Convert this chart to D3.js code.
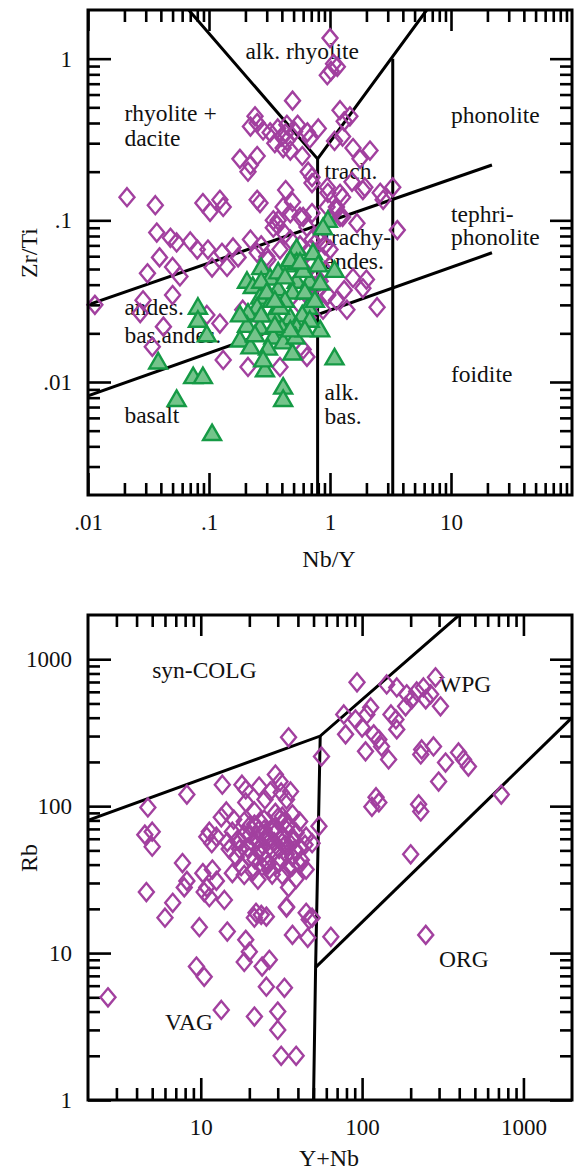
<!DOCTYPE html>
<html lang="en">
<head>
<meta charset="utf-8">
<title>Nb/Y - Zr/Ti and Y+Nb - Rb diagrams</title>
<style>
  body { margin: 0; background: #fff; }
  svg { display: block; }
  svg text { font-family: "Liberation Serif", "Times New Roman", serif; fill: #111; }
</style>
</head>
<body>
<div id="container"></div>
<script src="https://cdnjs.cloudflare.com/ajax/libs/d3/7.8.5/d3.min.js"></script>
<script>
// ---- top diagram: Nb/Y vs Zr/Ti ----
var diaNbY = [1.0,1.07,1.15,1.02,0.95,0.49,0.24,0.25,0.22,0.32,0.37,0.40,0.44,0.35,0.41,0.47,0.54,0.65,0.80,0.68,
  0.59,0.18,0.22,0.21,0.25,0.44,0.51,0.43,0.28,1.21,1.46,1.31,1.27,1.09,1.55,2.14,1.77,0.71,0.66,0.71,
  0.95,1.21,1.52,1.94,2.6,3.3,2.75,1.87,0.43,0.49,0.25,0.41,0.089,0.102,0.123,0.131,0.021,0.036,0.96,1.27,
  1.13,0.365,0.34,0.565,0.71,1.21,1.67,3.6,0.47,0.60,0.264,0.037,0.048,0.054,0.070,0.080,0.098,0.128,0.158,0.174,
  0.039,0.050,0.0575,0.106,0.141,0.031,0.0114,0.0285,0.050,0.25,0.30,0.22,0.373,0.34,0.645,0.945,1.13,1.27,0.47,0.565,
  0.68,0.80,0.86,0.71,0.62,0.91,0.80,0.96,0.75,0.565,0.386,0.307,0.876,0.66,1.87,2.45,1.55,1.31,1.13,1.38,
  2.0,0.19,0.227,0.123,0.042,0.034,0.131,0.21,0.386,0.60,0.645,0.027,0.096,0.51,0.72,0.47,0.83,0.68,0.565,0.27,0.425,
  0.83,0.71,1.0,0.91,0.75];
var diaZrTi = [1.34,0.93,0.89,0.84,0.79,0.55,0.44,0.40,0.38,0.35,0.37,0.33,0.31,0.30,0.28,0.27,0.39,0.35,0.37,0.32,
  0.25,0.24,0.22,0.20,0.25,0.39,0.355,0.345,0.36,0.48,0.44,0.41,0.33,0.31,0.28,0.27,0.24,0.185,0.20,0.17,
  0.16,0.146,0.173,0.16,0.148,0.16,0.134,0.154,0.154,0.13,0.134,0.121,0.128,0.113,0.134,0.121,0.139,0.124,0.148,0.139,
  0.121,0.094,0.10,0.105,0.111,0.105,0.096,0.087,0.111,0.105,0.128,0.084,0.078,0.073,0.074,0.066,0.066,0.063,0.068,0.059,
  0.059,0.0515,0.045,0.051,0.0515,0.047,0.030,0.032,0.0345,0.063,0.0595,0.076,0.10,0.09,0.091,0.121,0.116,0.105,0.076,0.070,
  0.066,0.076,0.059,0.053,0.045,0.049,0.037,0.0345,0.032,0.037,0.066,0.057,0.028,0.025,0.038,0.029,0.044,0.037,0.032,0.028,
  0.043,0.028,0.022,0.023,0.022,0.0165,0.0137,0.0124,0.0124,0.0159,0.0143,0.0267,0.026,0.057,0.055,0.048,0.042,0.0345,0.030,0.070,0.082,
  0.084,0.076,0.066,0.070,0.039];

var triNbY = [0.96,0.876,0.53,0.724,1.09,0.44,0.53,0.27,0.32,0.206,0.23,0.373,0.53,0.68,0.83,0.49,0.264,0.33,0.425,0.66,
  0.25,0.21,0.34,0.47,0.59,0.206,0.264,0.40,0.53,0.83,0.18,0.22,0.34,0.41,0.49,0.29,0.41,0.41,1.09,0.081,
  0.081,0.096,0.038,0.074,0.089,0.054,0.106,0.27,0.30,0.62,0.386,0.52,0.24,0.307,0.75,0.47,0.60,0.373,0.18,0.68,0.28,
  0.425,0.565,0.80,0.35,0.27,0.62,0.47,0.35];
var triZrTi = [0.100,0.090,0.067,0.063,0.049,0.053,0.055,0.051,0.044,0.042,0.039,0.0377,0.042,0.042,0.041,0.036,0.0335,0.032,0.032,0.029,
  0.029,0.0267,0.026,0.025,0.026,0.0224,0.0218,0.0215,0.0218,0.021,0.0182,0.0165,0.019,0.0177,0.0151,0.0119,0.0093,0.0078,0.0141,0.029,
  0.0241,0.0196,0.0133,0.0108,0.0108,0.0078,0.0048,0.042,0.036,0.036,0.029,0.019,0.0196,0.0162,0.032,0.057,0.049,0.048,0.026,0.0241,0.0137,
  0.0447,0.0552,0.053,0.032,0.026,0.021,0.021,0.0224];

var topBoundaries = [
  [[0.01, 0.0082], [21.8, 0.063]],
  [[0.01, 0.030], [21.8, 0.22]],
  [[0.068, 2], [0.79, 0.24], [6.3, 2]],
  [[0.79, 0.24], [0.79, 0.002]],
  [[3.3, 1.0], [3.3, 0.002]]
];
var topXTicks = [0.01, 0.1, 1, 10];
var topXLabels = [".01", ".1", "1", "10"];
var topYTicks = [0.01, 0.1, 1];
var topYLabels = [".01", ".1", "1"];
var topFields = [
  ["alk. rhyolite", 0.2, 1.0], ["rhyolite +", 0.02, 0.41], ["dacite", 0.02, 0.29],
  ["phonolite", 10, 0.4], ["trach.", 0.9, 0.18], ["tephri-", 10, 0.098], ["phonolite", 10, 0.07],
  ["trachy-", 0.9, 0.07], ["andes.", 0.9, 0.05], ["andes.", 0.02, 0.0258], ["bas.andes.", 0.02, 0.0175],
  ["basalt", 0.02, 0.0056], ["alk.", 0.9, 0.0077], ["bas.", 0.9, 0.0055], ["foidite", 10, 0.01]
];

// ---- bottom diagram: Y+Nb vs Rb ----
var yNb = [35,56,8.2,13.6,4.7,4.5,5.0,5.0,18,19,23,29,31,27,36,34,25,19,21.5,29,
  37,14.4,13.4,11.3,10.9,12.5,11.7,15.7,16.9,20,23,25.5,29,34,39,45,54,49,21,23,
  26.6,30.6,35,41,20,25.5,30.6,37,16.6,17.8,15.7,21,24,37,45,39,35,7.7,8.2,10.3,
  11.8,10.9,12.5,11.3,14,4.6,6.7,6.0,22,25.5,34,45,7.9,9.8,10.5,14.6,19,20,18.6,21.5,
  23.7,26.6,24,25.5,33,9.4,10.5,2.66,13.4,21.5,30,30,31.5,39,34,37,47,49,46,64,
  248,93,77,79,91,100,107,113,118,127,132,105,146,142,164,151,162,164,189,203,
  186,218,240,266,285,306,248,234,277,231,329,298,396,425,456,122,127,115,224,231,
  200,729,31.5,32,24.7,33,18.6,41,28.5,17.4,42,15,
  21.5,24.7,28.5,35,18.6,22.6,26.6,32,38,19.5,23.7,28.5,34,41,26.6,32,22.6,18.6,14.6,16,
  20.2,24,27.7,33.3,38.4,21.7,26.1,31,36.8,23.3,30.1,17.5,44.3,27.7,34.8];
var rb = [294,218,120,140,98,64,67,53,140,130,136,164,147,126,126,111,111,106,92,90,
  88,92,84,67,62,62,56,67,59,73,69,62,66,69,66,62,73,56,56,51,
  53,51,53,52,45,43,41,45,45,39,35,36,39,39,37,32,28,41,31,35,
  37,28,31,24,23,26,22,17.4,18.8,17.7,20.7,18.8,28,15,26,14,12.3,10.2,8.7,17.4,
  18.2,9.0,8.1,5.9,5.8,8.1,6.9,5.0,4.1,3.7,4.0,3.0,2.0,2.0,20.4,13.3,16.9,17.4,12.7,12.9,
  13.3,696,421,308,389,343,421,470,308,284,255,236,208,674,643,421,389,333,577,533,
  478,604,643,577,753,478,533,243,255,225,198,147,232,208,186,115,106,99,103,92,
  47,120,124,85,81,78.5,78.5,78.5,57,51,43,51,
  75,69,71,75,64,59,61,61,59,52,47,49,47,40,37,34,31.6,34,57,81,
  64,54.7,67,54.7,50.6,43.3,40,44.6,59,78.5,83.6,57.4,54.7,34.2,38.1];

var bottomBoundaries = [
  [[2, 80], [55, 300], [400, 2000]],
  [[55, 300], [51.5, 8], [50, 1]],
  [[51.5, 8], [2000, 400]]
];
var botXTicks = [10, 100, 1000];
var botXLabels = ["10", "100", "1000"];
var botYTicks = [1, 10, 100, 1000];
var botYLabels = ["1", "10", "100", "1000"];
var bottomFields = [
  ["syn-COLG", 5, 750], ["WPG", 300, 600], ["ORG", 300, 8], ["VAG", 6, 3.0]
];

var W = 578, H = 1174;
var svg = d3.select("#container").append("svg")
  .attr("width", W)
  .attr("height", H);

var purple = "#a2409f";
var greenFill = "#74c48b", greenLine = "#159a45";
var diamond = "M0,-9L7.5,0L0,9L-7.5,0Z";
var triangle = "M0,-9L9,6.5L-9,6.5Z";

function minorTicks(dom) {
  var out = [];
  for (var e = Math.floor(Math.log10(dom[0])); e <= Math.ceil(Math.log10(dom[1])); e++) {
    for (var k = 2; k <= 9; k++) {
      var v = +(k * Math.pow(10, e)).toPrecision(6);
      if (v > dom[0] * 1.0001 && v < dom[1] * 0.9999) out.push(v);
    }
  }
  return out;
}

function drawPanel(p) {
  var x = d3.scaleLog().domain(p.xDomain).range([88, 572]);
  var y = d3.scaleLog().domain(p.yDomain).range([p.bottom, p.top]);
  var g = svg.append("g");

  g.append("clipPath").attr("id", p.id)
    .append("rect")
    .attr("x", 88).attr("y", p.top)
    .attr("width", 572 - 88).attr("height", p.bottom - p.top);

  function addAxis(axis, tx, ty) {
    var a = g.append("g")
      .attr("transform", "translate(" + tx + "," + ty + ")")
      .call(axis);
    a.select(".domain").remove();
    a.selectAll("line").attr("stroke", "#000").attr("stroke-width", 2.6);
    a.selectAll("text")
      .style("font-family", "'Liberation Serif', 'Times New Roman', serif")
      .style("font-size", "23px")
      .attr("fill", "#111");
    return a;
  }

  var xMin = minorTicks(p.xDomain), yMin = minorTicks(p.yDomain);

  addAxis(d3.axisBottom(x).tickValues(p.xTicks).tickSize(-22).tickPadding(19)
    .tickFormat(function(d, i) { return p.xLabels[i]; }), 0, p.bottom);
  addAxis(d3.axisBottom(x).tickValues(xMin).tickSize(-12).tickFormat(""), 0, p.bottom);
  addAxis(d3.axisTop(x).tickValues(p.xTicks).tickSize(-21).tickFormat(""), 0, p.top);
  addAxis(d3.axisTop(x).tickValues(xMin).tickSize(-12).tickFormat(""), 0, p.top);

  addAxis(d3.axisLeft(y).tickValues(p.yTicks).tickSize(-23).tickPadding(16)
    .tickFormat(function(d, i) { return p.yLabels[i]; }), 88, 0);
  addAxis(d3.axisLeft(y).tickValues(yMin).tickSize(-12).tickFormat(""), 88, 0);
  addAxis(d3.axisRight(y).tickValues(p.yTicks).tickSize(-22).tickFormat(""), 572, 0);
  addAxis(d3.axisRight(y).tickValues(yMin).tickSize(-12).tickFormat(""), 572, 0);

  var line = d3.line()
    .x(function(d) { return x(d[0]); })
    .y(function(d) { return y(d[1]); });

  g.append("g").attr("clip-path", "url(#" + p.id + ")")
    .selectAll("path")
    .data(p.boundaries)
    .enter().append("path")
    .attr("d", line)
    .attr("fill", "none")
    .attr("stroke", "#000")
    .attr("stroke-width", 3);

  g.append("g").selectAll("text")
    .data(p.fields)
    .enter().append("text")
    .attr("x", function(d) { return x(d[1]); })
    .attr("y", function(d) { return y(d[2]); })
    .style("font-size", "23.5px")
    .text(function(d) { return d[0]; });

  p.series.forEach(function(s) {
    g.append("g").selectAll("path")
      .data(d3.range(s.xs.length))
      .enter().append("path")
      .attr("d", s.shape)
      .attr("transform", function(i) { return "translate(" + x(s.xs[i]) + "," + y(s.ys[i]) + ")"; })
      .attr("fill", s.fill)
      .attr("stroke", s.stroke)
      .attr("stroke-width", 2.4);
  });

  g.append("rect")
    .attr("x", 88).attr("y", p.top)
    .attr("width", 572 - 88).attr("height", p.bottom - p.top)
    .attr("fill", "none")
    .attr("stroke", "#000")
    .attr("stroke-width", 3);

  g.append("text")
    .attr("x", 329).attr("y", p.bottom + p.xTitleDy)
    .attr("text-anchor", "middle")
    .style("font-size", "24px")
    .text(p.xTitle);

  g.append("text")
    .attr("transform", "translate(37," + p.yTitleAt + ") rotate(-90)")
    .attr("text-anchor", "middle")
    .style("font-size", "24px")
    .text(p.yTitle);
}

drawPanel({
  id: "clipTop", top: 10, bottom: 495,
  xDomain: [0.01, 100], yDomain: [0.002, 2],
  xTicks: topXTicks, xLabels: topXLabels, yTicks: topYTicks, yLabels: topYLabels,
  boundaries: topBoundaries, fields: topFields,
  series: [
    { xs: diaNbY, ys: diaZrTi, shape: diamond, fill: "none", stroke: purple },
    { xs: triNbY, ys: triZrTi, shape: triangle, fill: greenFill, stroke: greenLine }
  ],
  xTitle: "Nb/Y", xTitleDy: 72, yTitle: "Zr/Ti", yTitleAt: 253
});

drawPanel({
  id: "clipBottom", top: 615, bottom: 1100,
  xDomain: [2, 2000], yDomain: [1, 2000],
  xTicks: botXTicks, xLabels: botXLabels, yTicks: botYTicks, yLabels: botYLabels,
  boundaries: bottomBoundaries, fields: bottomFields,
  series: [
    { xs: yNb, ys: rb, shape: diamond, fill: "none", stroke: purple }
  ],
  xTitle: "Y+Nb", xTitleDy: 66, yTitle: "Rb", yTitleAt: 858
});
</script>
</body>
</html>
